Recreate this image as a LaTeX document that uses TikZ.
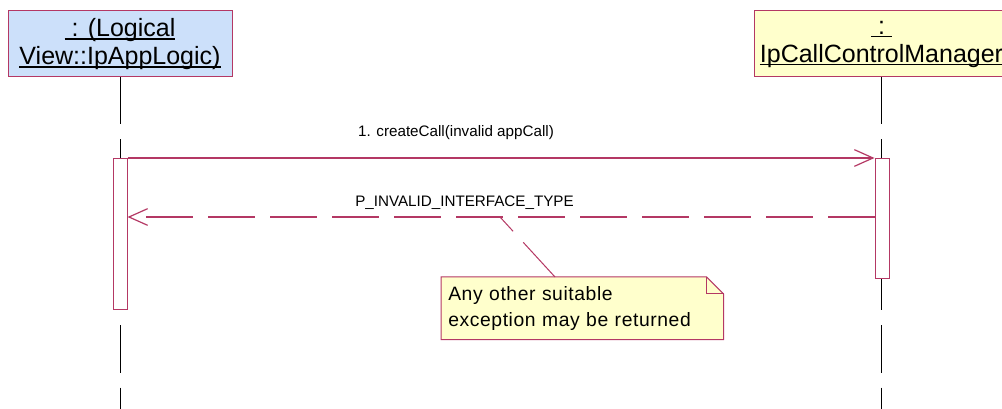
\documentclass[tikz,border=0pt]{standalone}
\usepackage{fontspec}
\setmainfont{Liberation Sans}
\usetikzlibrary{arrows.meta, positioning, calc}

\definecolor{umlred}{RGB}{180,56,100}
\definecolor{objblue}{RGB}{204,224,250}
\definecolor{objyellow}{RGB}{255,255,204}

\pgfdeclarelayer{background}
\pgfsetlayers{background,main}

% underline that sits close to the baseline
\newsavebox{\ulsave}
\newcommand{\umlul}[1]{\sbox{\ulsave}{#1}\rlap{\rule[-2.4pt]{\wd\ulsave}{0.9pt}}\usebox{\ulsave}}

\begin{document}
\begin{tikzpicture}[x=0.75pt, y=-0.75pt,
        object/.style={draw=umlred, line width=0.75pt, minimum height=49.5pt,
            align=center, inner sep=0pt, font=\fontsize{18.75}{21}\selectfont},
        activation/.style={draw=umlred, fill=white, line width=0.75pt,
            minimum width=10.5pt, inner sep=0pt, anchor=north},
        lifeline/.style={black, line width=0.75pt, dash pattern=on 35.25pt off 11.25pt},
        call/.style={umlred, line width=0.9pt, -{Straight Barb[length=14pt, width=12.5pt]}},
        reply/.style={call, dash pattern=on 35.25pt off 11.25pt},
        msglabel/.style={anchor=base, inner sep=0pt, font=\fontsize{11.4}{13}\selectfont},
        notebox/.style={anchor=north west, text width=201pt, inner xsep=5.25pt,
            inner ysep=6pt, minimum height=46.5pt, align=left,
            font=\fontsize{14.5}{19.5}\selectfont\addfontfeature{LetterSpace=3}}]

    \clip (0,0) rectangle (1002,409);

    % Objects
    \node[object, fill=objblue, minimum width=168pt] (appLogic) at (120,44)
        {\umlul{\ : (Logical}\\\umlul{View::IpAppLogic)}};
    \node[object, fill=objyellow, minimum width=191.25pt] (callMgr) at (881.5,44)
        {\umlul{\ :\ }\\\umlul{IpCallControlManager}};

    % Lifelines
    \coordinate (bottom) at (0,409);
    \draw[lifeline] (appLogic.south) -- (appLogic.south |- bottom);
    \draw[lifeline] (callMgr.south) -- (callMgr.south |- bottom);

    % Activations
    \node[activation, minimum height=113.25pt] (actL) at (120,158) {};
    \node[activation, minimum height=90pt] (actR) at (882,158) {};

    % Messages
    \draw[call] (actL.north east) -- (actR.north west);
    \node[msglabel] (m1) at (456,137) {1. createCall(invalid appCall)};

    \coordinate (ret) at (500,217);
    \draw[reply] (actR.west |- ret) -- (actL.east |- ret);
    \node[msglabel] (m2) at (464.5,207) {P\_INVALID\_INTERFACE\_TYPE};

    % Note
    \node[notebox] (note) at (441,277) {Any other suitable\\exception may be returned};
    \begin{pgfonlayer}{background}
        \draw[umlred, line width=0.75pt, fill=objyellow] (note.north west)
            -- ($(note.north east)+(-17,0)$) -- ($(note.north east)+(0,17)$)
            -- (note.south east) -- (note.south west) -- cycle;
    \end{pgfonlayer}
    \draw[umlred, line width=0.75pt] ($(note.north east)+(-17,0)$)
        -- ($(note.north east)+(-17,17)$) -- ($(note.north east)+(0,17)$);
    \draw[umlred, line width=0.75pt, dash pattern=on 35.25pt off 11.25pt]
        ($(note.north west)+(114,0)$) -- (ret);
\end{tikzpicture}
\end{document}
